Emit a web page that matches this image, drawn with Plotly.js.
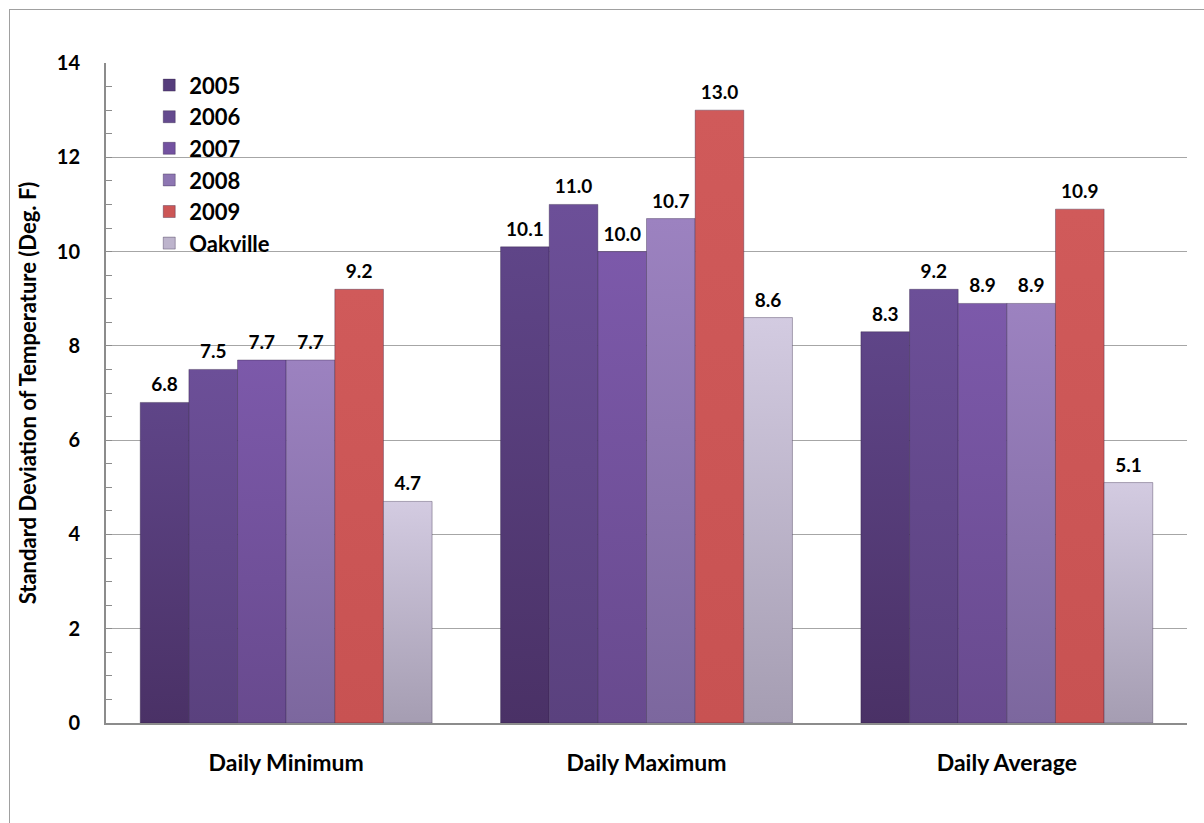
<!DOCTYPE html>
<html>
<head>
<meta charset="utf-8">
<script src="https://cdn.plot.ly/plotly-3.0.1.min.js"></script>
<style>
  html, body { margin: 0; padding: 0; background: #ffffff; overflow: hidden; }
  #chart { position: absolute; left: 0; top: 0; width: 1204px; height: 823px; }
  #frame { position: absolute; left: 9px; top: 9px; width: 1300px; height: 900px;
           border: 1px solid #a0a0a0; pointer-events: none; }
</style>
</head>
<body>
<svg width="0" height="0" style="position:absolute">
  <defs id="bar-shades"></defs>
</svg>
<div id="chart"></div>
<div id="frame"></div>
<script>
// Categories on the x axis
const categories = ["Daily Minimum", "Daily Maximum", "Daily Average"];

// Standard deviation of temperature (deg. F) for each series
const series2005 = [6.8, 10.1, 8.3];
const series2006 = [7.5, 11.0, 9.2];
const series2007 = [7.7, 10.0, 8.9];
const series2008 = [7.7, 10.7, 8.9];
const series2009 = [9.2, 13.0, 10.9];
const seriesOakville = [4.7, 8.6, 5.1];

const seriesNames = ["2005", "2006", "2007", "2008", "2009", "Oakville"];
const seriesValues = [series2005, series2006, series2007, series2008, series2009, seriesOakville];

// Flat colour (legend) plus top/bottom shades for each bar
const seriesColors = ["#563d7c", "#644a8e", "#7352a0", "#8d76b2", "#cc5656", "#bdb4cc"];
const topShades    = ["#5f4588", "#6c4f98", "#7c59aa", "#9c82c0", "#d05a5a", "#d3cbe1"];
const bottomShades = ["#4a3166", "#5a417e", "#684a8e", "#7c679e", "#c85252", "#a59db2"];

const fontFamily = "Lato, 'Open Sans', sans-serif";

const traces = seriesNames.map((name, i) => ({
  type: "bar",
  name: name,
  legendgroup: name,
  x: categories,
  y: seriesValues[i],
  marker: { color: seriesColors[i], line: { color: "rgba(40,25,60,0.35)", width: 1 } },
  text: seriesValues[i].map(v => v.toFixed(1)),
  texttemplate: "%{text}",
  textposition: "outside",
  textfont: { family: fontFamily, size: 19, color: "#000000", weight: "bold" },
  cliponaxis: false,
  hoverinfo: "x+y+name"
}));

const layout = {
  width: 1204,
  height: 823,
  margin: { l: 106, r: 17, t: 63, b: 100 },
  paper_bgcolor: "#ffffff",
  plot_bgcolor: "#ffffff",
  font: { family: fontFamily, color: "#000000" },
  barmode: "group",
  bargap: 0.19,
  bargroupgap: 0,
  showlegend: true,
  legend: {
    x: 0.04, y: 0.998, xanchor: "left", yanchor: "top",
    bgcolor: "rgba(0,0,0,0)",
    font: { family: fontFamily, size: 22, color: "#000000", weight: "bold" },
    tracegroupgap: 1.5,
    traceorder: "normal"
  },
  xaxis: {
    type: "category",
    showgrid: false,
    showline: true,
    linecolor: "#8c8c8c",
    linewidth: 2,
    ticks: "",
    ticklabelstandoff: 18,
    tickfont: { family: fontFamily, size: 23, color: "#000000", weight: "bold" }
  },
  yaxis: {
    range: [0, 14],
    dtick: 2,
    showgrid: true,
    gridcolor: "#a6a6a6",
    gridwidth: 1,
    showline: true,
    linecolor: "#8c8c8c",
    linewidth: 2,
    ticks: "inside",
    ticklen: 6,
    tickcolor: "#8c8c8c",
    minor: { dtick: 0.5, ticks: "inside", ticklen: 6, tickcolor: "#8c8c8c", showgrid: false },
    zeroline: false,
    ticklabelstandoff: 20,
    tickfont: { family: fontFamily, size: 20, color: "#000000", weight: "bold" },
    title: {
      text: "Standard Deviation of Temperature (Deg. F)",
      font: { family: fontFamily, size: 22, color: "#000000", weight: "bold" },
      standoff: 14
    }
  }
};

// Vertical shading for the bars: lighter at the top, deeper at the base
function addShades() {
  const defs = document.getElementById("bar-shades");
  const ns = "http://www.w3.org/2000/svg";
  seriesNames.forEach((name, i) => {
    const g = document.createElementNS(ns, "linearGradient");
    g.setAttribute("id", "shade" + i);
    g.setAttribute("x1", "0"); g.setAttribute("y1", "0");
    g.setAttribute("x2", "0"); g.setAttribute("y2", "1");
    [[0, topShades[i]], [1, bottomShades[i]]].forEach(([o, c]) => {
      const s = document.createElementNS(ns, "stop");
      s.setAttribute("offset", o);
      s.setAttribute("stop-color", c);
      g.appendChild(s);
    });
    defs.appendChild(g);
  });
}

addShades();
Plotly.newPlot("chart", traces, layout, { displayModeBar: false, staticPlot: true }).then(gd => {
  gd.querySelectorAll(".barlayer .trace").forEach((tr, i) => {
    tr.querySelectorAll(".point path").forEach(p => { p.style.fill = "url(#shade" + i + ")"; });
    // lift the value labels a little higher above the bar tops
    tr.querySelectorAll(".point text").forEach(t => {
      t.setAttribute("transform", (t.getAttribute("transform") || "") + " translate(0,-4)");
    });
  });
});
</script>
</body>
</html>
